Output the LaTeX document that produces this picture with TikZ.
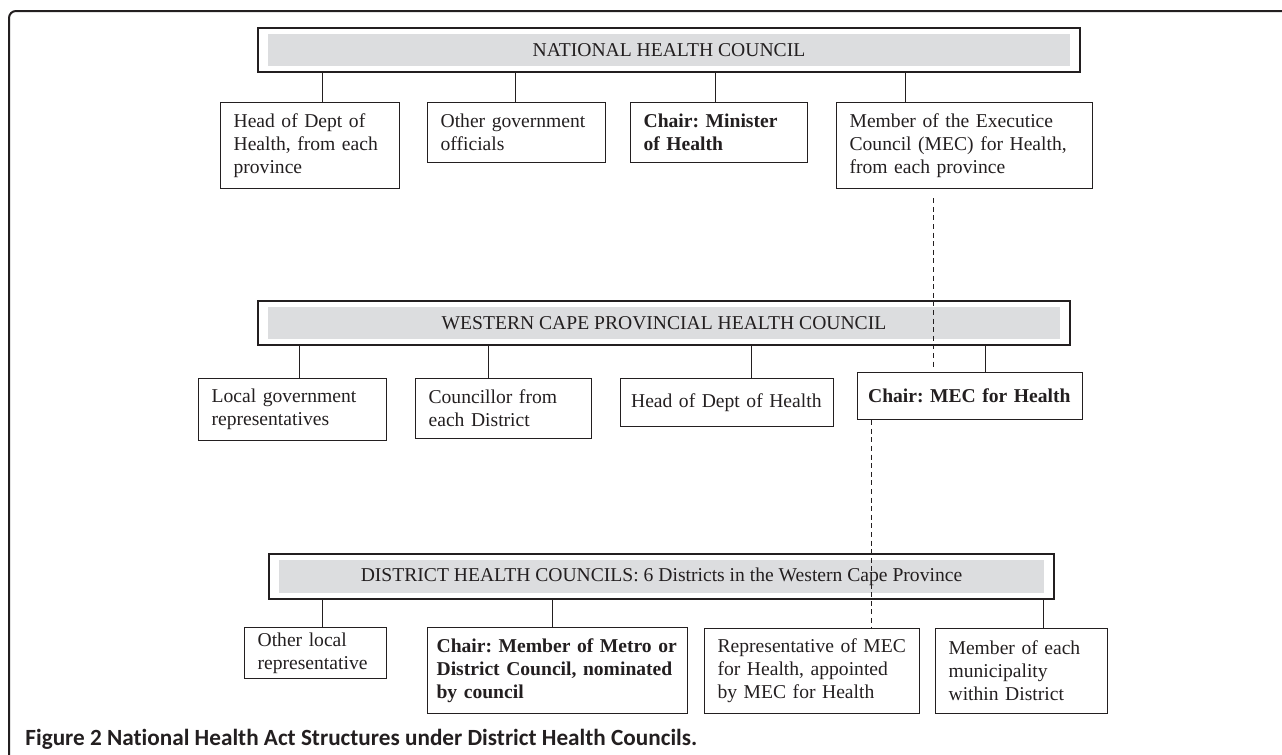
\documentclass[tikz,border=0pt]{standalone}
\usepackage{fontspec}
\setmainfont{Liberation Serif}
\newfontfamily\capfont[Ligatures=NoCommon]{Carlito}
\usetikzlibrary{positioning}
\definecolor{ink}{HTML}{231F20}
\definecolor{councilgrey}{HTML}{DCDDDF}
\newcommand{\boxfont}{\fontsize{9.8}{11.5}\selectfont\frenchspacing}

\begin{document}
\begin{tikzpicture}[x=0.5pt, y=-0.5pt,
  every node/.style={text=ink, font=\boxfont},
  member/.style={draw=ink, line width=0.6pt, rectangle, anchor=north west, align=left, inner xsep=6.5pt, inner ysep=2pt},
  chair/.style={member, font=\boxfont\bfseries},
  council/.style={draw=ink, line width=0.6pt, rectangle, inner sep=0pt, minimum height=22pt,
    path picture={\fill[councilgrey] ([shift={(5pt,-3pt)}]path picture bounding box.north west) rectangle ([shift={(-5pt,3pt)}]path picture bounding box.south east);}},
  link/.style={draw=ink, line width=0.5pt},
  delegate/.style={link, dash pattern=on 2.5pt off 1.8pt}]
\useasboundingbox (0,0) rectangle (1282,755);
\draw[ink, line width=1pt, rounded corners=3.5pt] (9,755) -- (9,11) -- (1282,11);

% national level
\node[council, minimum width=411pt] (nhc) at (669,50) {NATIONAL HEALTH COUNCIL};
\node[member, text width=76.5pt, minimum height=43pt] (hod) at (220,102) {Head of Dept of\\Health, from each\\province};
\node[member, text width=76pt, minimum height=30pt] (ogo) at (427,102) {Other government\\officials};
\node[chair, text width=75.5pt, minimum height=30pt] (chm) at (630,102) {Chair: Minister\\of Health};
\node[member, text width=115pt, minimum height=43pt] (mec) at (836,102) {Member of the Executice\\Council (MEC) for Health,\\from each province};
\foreach \x/\kid in {322/hod, 515/ogo, 715/chm, 905/mec}
  \draw[link] (nhc.south -| \x,0) -- (\kid.north -| \x,0);

% provincial level
\node[council, minimum width=406pt] (wcp) at (664,323) {WESTERN CAPE PROVINCIAL HEALTH COUNCIL};
\node[member, text width=81pt, minimum height=31pt] (lgr) at (198,378) {Local government\\representatives};
\node[member, text width=75pt, minimum height=30pt] (cfd) at (415,378) {Councillor from\\each District};
\node[member, text width=96pt, inner xsep=5.25pt, minimum height=24pt] (hdh) at (620,378) {Head of Dept of Health};
\node[chair, text width=102pt, inner xsep=5.25pt, minimum height=23.5pt] (cmec) at (857,372) {Chair: MEC for Health};
\foreach \x/\kid in {299/lgr, 488/cfd, 751/hdh, 985/cmec}
  \draw[link] (wcp.south -| \x,0) -- (\kid.north -| \x,0);
\coordinate (mecline) at (933,0);
\draw[delegate, shorten <=4.5pt, shorten >=2.5pt] (mec.south -| mecline) -- (cmec.north -| mecline);

% district level
\node[council, minimum width=392.5pt, minimum height=22.5pt] (dhc) at (661.5,576.5) {DISTRICT HEALTH COUNCILS: 6 Districts in the Western Cape Province};
\node[member, text width=58pt, minimum height=25.5pt] (olr) at (244,627) {Other local\\representative};
\node[chair, text width=121pt, inner xsep=4.5pt, minimum height=43pt] (cmm) at (427,627) {Chair: Member of Metro or\\District Council, nominated\\by council};
\node[member, text width=94.5pt, minimum height=42.5pt] (rep) at (704,628) {Representative of MEC\\for Health, appointed\\by MEC for Health};
\node[member, text width=73pt, minimum height=42.5pt] (mem) at (935,628) {Member of each\\municipality\\within District};
\foreach \x/\kid in {322/olr, 552/cmm, 1043/mem}
  \draw[link] (dhc.south -| \x,0) -- (\kid.north -| \x,0);
\coordinate (repline) at (871,0);
\draw[delegate] (cmec.south -| repline) -- (rep.north -| repline);

\node[anchor=west, inner sep=0pt, font=\capfont\bfseries\fontsize{11.6}{13}\selectfont] (caption) at (25,739) {Figure 2 National Health Act Structures under District Health Councils.};
\end{tikzpicture}
\end{document}
